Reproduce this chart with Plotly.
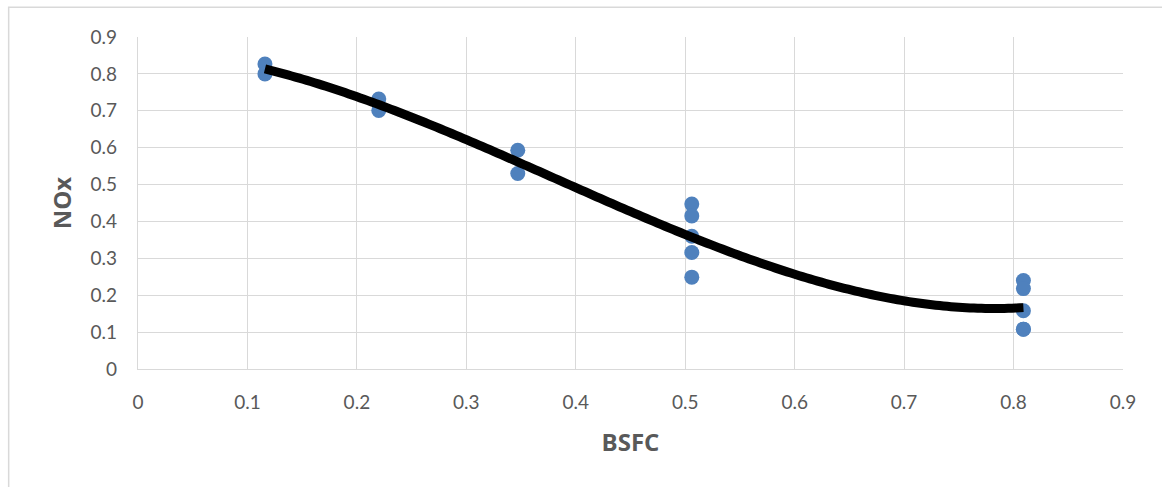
import numpy as np
import plotly.graph_objects as go

bsfc = [0.116, 0.116, 0.220, 0.220, 0.347, 0.347,
        0.506, 0.506, 0.506, 0.506, 0.506,
        0.809, 0.809, 0.809, 0.809, 0.809]
nox = [0.827, 0.800, 0.732, 0.701, 0.593, 0.530,
       0.447, 0.415, 0.360, 0.316, 0.249,
       0.240, 0.218, 0.158, 0.108, 0.108]

x_ticks = [0, 0.1, 0.2, 0.3, 0.4, 0.5, 0.6, 0.7, 0.8, 0.9]
y_ticks = [0, 0.1, 0.2, 0.3, 0.4, 0.5, 0.6, 0.7, 0.8, 0.9]
x_title = "BSFC"
y_title = "NOx"

coef = np.polyfit(bsfc, nox, 3)
xs = np.linspace(min(bsfc), max(bsfc), 200)
ys = np.polyval(coef, xs)

fig = go.Figure()
fig.add_trace(go.Scatter(x=bsfc, y=nox, mode="markers",
                         marker=dict(size=15, color="#4F81BD"),
                         showlegend=False, hoverinfo="x+y"))
fig.add_trace(go.Scatter(x=xs, y=ys, mode="lines",
                         line=dict(color="black", width=9, simplify=False),
                         showlegend=False, hoverinfo="skip"))

axis_font = dict(family="Lato, Open Sans, Liberation Sans, sans-serif", size=19, color="#595959")
title_font = dict(family="Open Sans, Liberation Sans, sans-serif", size=24, color="#595959")

fig.update_layout(
    width=1162, height=487,
    margin=dict(l=137.5, r=38.5, t=36.7, b=117.7),
    paper_bgcolor="white", plot_bgcolor="white",
    xaxis=dict(range=[0, 0.9], tickvals=x_ticks, ticktext=[str(v) for v in x_ticks],
               showgrid=True, gridcolor="#d9d9d9", gridwidth=1.3, zeroline=False,
               showline=True, linecolor="#d9d9d9", linewidth=1.3, mirror=False,
               ticks="", tickfont=axis_font, ticklabelstandoff=16,
               title=dict(text="<b>" + x_title + "</b>", font=title_font, standoff=22)),
    yaxis=dict(range=[0, 0.9], tickvals=y_ticks, ticktext=[str(v) for v in y_ticks],
               showgrid=True, gridcolor="#d9d9d9", gridwidth=1.3, zeroline=False,
               showline=True, linecolor="#d9d9d9", linewidth=1.3,
               ticks="", tickfont=axis_font, ticklabelstandoff=16,
               title=dict(text="<b>" + y_title + "</b>", font=title_font, standoff=12)),
    shapes=[dict(type="rect", xref="paper", yref="paper",
                 x0=-0.1313, x1=1.2, y0=-0.6, y1=1.0893,
                 line=dict(color="#d9d9d9", width=1.5), layer="below")],
)

fig.write_html("out.html")
